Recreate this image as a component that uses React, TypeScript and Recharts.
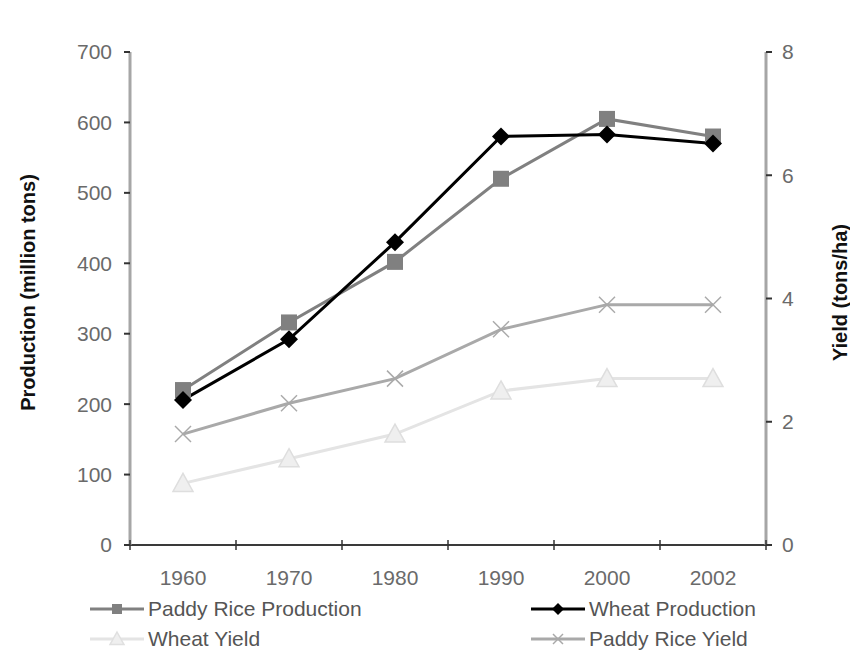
import React from "react";
import { Line, LineChart, XAxis, YAxis } from "recharts";

// years on the category axis
const years = ["1960", "1970", "1980", "1990", "2000", "2002"];

// production, million tons
const paddyRiceProduction = [220, 316, 402, 520, 605, 580];
const wheatProduction = [206, 292, 430, 580, 583, 570];

// yield, tons/ha
const wheatYield = [1.0, 1.4, 1.8, 2.5, 2.7, 2.7];
const paddyRiceYield = [1.8, 2.3, 2.7, 3.5, 3.9, 3.9];

const productionTicks = [0, 100, 200, 300, 400, 500, 600, 700];
const yieldTicks = [0, 2, 4, 6, 8];

const data = years.map((year, i) => ({
  year,
  paddyRiceProduction: paddyRiceProduction[i],
  wheatProduction: wheatProduction[i],
  wheatYield: wheatYield[i],
  paddyRiceYield: paddyRiceYield[i],
}));

const FONT = '"Liberation Sans", Arial, sans-serif';
const TICK_COLOR = "#6a6a6a";
const HALF_BAND = 53;

const COLORS = {
  paddyProd: "#808080",
  wheatProd: "#000000",
  wheatYield: "#e4e4e4",
  paddyYield: "#a9a9a9",
};

type MarkerProps = { cx?: number; cy?: number; index?: number };

const square = (color: string, s = 16) => (p: MarkerProps) => (
  <rect key={p.index} x={(p.cx ?? 0) - s / 2} y={(p.cy ?? 0) - s / 2} width={s} height={s} fill={color} />
);

const diamond = (color: string, s = 9) => (p: MarkerProps) => {
  const x = p.cx ?? 0;
  const y = p.cy ?? 0;
  return (
    <polygon key={p.index} points={`${x},${y - s} ${x + s},${y} ${x},${y + s} ${x - s},${y}`} fill={color} />
  );
};

const triangle = (color: string, s = 10) => (p: MarkerProps) => {
  const x = p.cx ?? 0;
  const y = p.cy ?? 0;
  return (
    <polygon
      key={p.index}
      points={`${x},${y - s} ${x + s},${y + s * 0.8} ${x - s},${y + s * 0.8}`}
      fill="#efefef"
      stroke={color}
      strokeWidth={1.5}
    />
  );
};

const cross = (color: string, s = 8) => (p: MarkerProps) => {
  const x = p.cx ?? 0;
  const y = p.cy ?? 0;
  return (
    <g key={p.index} stroke={color} strokeWidth={1.5}>
      <line x1={x - s} y1={y - s} x2={x + s} y2={y + s} />
      <line x1={x - s} y1={y + s} x2={x + s} y2={y - s} />
    </g>
  );
};

const YearTick = (props: any) => {
  const { x, y, payload, index } = props;
  const last = index === years.length - 1;
  return (
    <g>
      <line x1={x - HALF_BAND} y1={y - 5} x2={x - HALF_BAND} y2={y + 5} stroke="#333" strokeWidth={1.5} />
      {last && <line x1={x + HALF_BAND} y1={y - 5} x2={x + HALF_BAND} y2={y + 5} stroke="#333" strokeWidth={1.5} />}
      <text x={x} y={y + 40} textAnchor="middle" fill={TICK_COLOR} fontSize={21} fontFamily={FONT}>
        {payload.value}
      </text>
    </g>
  );
};

const axisTitle = (text: string, dxFromAxisBox: number) => (props: any) => {
  const vb = props.viewBox;
  const x = vb.x + dxFromAxisBox;
  const y = vb.y + vb.height / 2 - 6;
  return (
    <text
      x={x}
      y={y}
      transform={`rotate(-90, ${x}, ${y})`}
      textAnchor="middle"
      dominantBaseline="central"
      fontSize={20}
      fontWeight="bold"
      fontFamily={FONT}
      fill="#111"
    >
      {text}
    </text>
  );
};

const legendItems = [
  { name: "Paddy Rice Production", color: COLORS.paddyProd, marker: "square" },
  { name: "Wheat Production", color: COLORS.wheatProd, marker: "diamond" },
  { name: "Wheat Yield", color: COLORS.wheatYield, marker: "triangle" },
  { name: "Paddy Rice Yield", color: COLORS.paddyYield, marker: "cross" },
];

function LegendIcon({ color, marker }: { color: string; marker: string }) {
  const m: MarkerProps = { cx: 27, cy: 12 };
  const shape =
    marker === "square"
      ? square(color, 10)(m)
      : marker === "diamond"
      ? diamond(color, 6)(m)
      : marker === "triangle"
      ? triangle("#e0e0e0", 7)(m)
      : cross(color, 5)(m);
  return (
    <svg width={54} height={24} style={{ display: "block" }}>
      <line x1={0} y1={12} x2={54} y2={12} stroke={color} strokeWidth={3} />
      {shape}
    </svg>
  );
}

export default function App() {
  return (
    <div style={{ position: "absolute", left: 0, top: 0, width: 850, height: 651, background: "#fff", fontFamily: FONT }}>
      <LineChart width={850} height={651} data={data} margin={{ top: 52, right: 0, bottom: 0, left: 0 }}>
        <XAxis
          dataKey="year"
          padding={{ left: HALF_BAND, right: HALF_BAND }}
          height={106}
          tickSize={0}
          tickMargin={0}
          tickLine={false}
          axisLine={{ stroke: "#3a3a3a", strokeWidth: 2 }}
          tick={<YearTick />}
          interval={0}
        />
        <YAxis
          yAxisId="prod"
          width={130}
          domain={[0, 700]}
          ticks={productionTicks}
          tickSize={6}
          tickMargin={12}
          axisLine={{ stroke: "#a6a6a6", strokeWidth: 3 }}
          tickLine={{ stroke: "#333", strokeWidth: 2 }}
          tick={{ fill: TICK_COLOR, fontSize: 21, fontFamily: FONT }}
          label={{ content: axisTitle("Production (million tons)", 28) }}
        />
        <YAxis
          yAxisId="yield"
          orientation="right"
          width={84}
          domain={[0, 8]}
          ticks={yieldTicks}
          tickSize={6}
          tickMargin={10}
          axisLine={{ stroke: "#a6a6a6", strokeWidth: 3 }}
          tickLine={{ stroke: "#333", strokeWidth: 2 }}
          tick={{ fill: TICK_COLOR, fontSize: 21, fontFamily: FONT }}
          label={{ content: axisTitle("Yield (tons/ha)", 74) }}
        />
        <Line
          yAxisId="yield"
          dataKey="wheatYield"
          type="linear"
          stroke={COLORS.wheatYield}
          strokeWidth={3}
          dot={triangle("#dedede")}
          activeDot={false}
          isAnimationActive={false}
        />
        <Line
          yAxisId="yield"
          dataKey="paddyRiceYield"
          type="linear"
          stroke={COLORS.paddyYield}
          strokeWidth={3}
          dot={cross(COLORS.paddyYield)}
          activeDot={false}
          isAnimationActive={false}
        />
        <Line
          yAxisId="prod"
          dataKey="paddyRiceProduction"
          type="linear"
          stroke={COLORS.paddyProd}
          strokeWidth={3}
          dot={square(COLORS.paddyProd)}
          activeDot={false}
          isAnimationActive={false}
        />
        <Line
          yAxisId="prod"
          dataKey="wheatProduction"
          type="linear"
          stroke={COLORS.wheatProd}
          strokeWidth={3}
          dot={diamond(COLORS.wheatProd)}
          activeDot={false}
          isAnimationActive={false}
        />
      </LineChart>
      <div
        style={{
          position: "absolute",
          left: 90,
          top: 597,
          display: "grid",
          gridTemplateColumns: "441px 260px",
          rowGap: 6,
        }}
      >
        {legendItems.map((item) => (
          <div key={item.name} style={{ display: "flex", alignItems: "center", height: 24 }}>
            <LegendIcon color={item.color} marker={item.marker} />
            <span style={{ marginLeft: 4, fontSize: 21, color: "#555", whiteSpace: "nowrap" }}>{item.name}</span>
          </div>
        ))}
      </div>
    </div>
  );
}
